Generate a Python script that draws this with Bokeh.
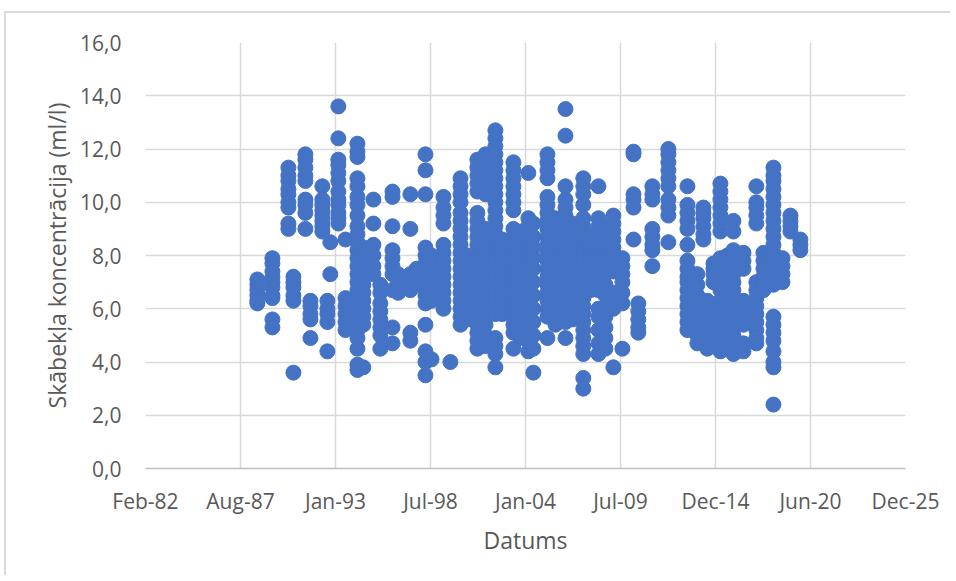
from datetime import datetime
from bokeh.plotting import figure
from bokeh.models import Range1d, FixedTicker, CustomJSTickFormatter, ColumnDataSource
from bokeh.embed import file_html
from bokeh.resources import INLINE

# ---- data: sampling dates and the oxygen values measured on each date ----
sample_dates = [
    "1988-07-31", "1989-06-13", "1990-05-15", "1990-08-29", "1991-05-08", "1991-08-22",
    "1992-04-29", "1992-08-13", "1992-10-14", "1993-04-01", "1993-08-29", "1994-05-08",
    "1994-09-09", "1995-04-09", "1995-09-02", "1996-05-15", "1996-09-12", "1997-05-26",
    "1997-10-01", "1998-04-09", "1998-08-15", "1999-04-23", "1999-09-16", "2000-04-16",
    "2000-09-09", "2001-04-06", "2001-09-24", "2002-04-20", "2002-09-13", "2003-05-05",
    "2003-09-27", "2004-03-14", "2004-06-28", "2005-04-20", "2005-10-05", "2006-05-05",
    "2006-09-27", "2007-05-15", "2007-10-12", "2008-03-29", "2008-08-22", "2009-02-06",
    "2009-08-15", "2010-04-06", "2010-07-16", "2011-05-08", "2012-04-09", "2013-05-15",
    "2013-12-10", "2014-04-16", "2014-07-09", "2014-11-14", "2015-04-09", "2015-09-02",
    "2016-01-08", "2016-08-07", "2017-05-05", "2017-10-01", "2018-04-30", "2018-11-06",
    "2019-04-23", "2019-11-18",
]
sample_values = [
    [7.1, 6.9, 6.7, 6.5, 6.3, 6.2],
    [7.9, 7.7, 7.4, 7.2, 7.0, 6.8, 6.5, 6.4, 5.6, 5.3],
    [11.3, 11.0, 10.8, 10.5, 10.3, 10.0, 9.8, 9.2, 9.0],
    [7.2, 7.0, 6.8, 6.5, 6.3, 3.6],
    [11.8, 11.6, 11.3, 11.0, 10.8, 10.1, 9.9, 9.6, 9.0],
    [6.3, 6.1, 5.8, 5.6, 4.9],
    [10.6, 10.1, 9.9, 9.7, 9.5, 9.3, 9.1, 8.9],
    [6.3, 6.0, 5.8, 5.5, 4.4],
    [8.5, 7.3],
    [13.6, 12.4, 11.6, 11.4, 11.1, 10.8, 10.4, 10.1, 9.9, 9.6, 9.4, 9.2],
    [8.6, 6.4, 6.1, 5.8, 5.5, 5.2],
    [12.2, 11.9, 11.7, 10.9, 10.6, 10.2, 9.9, 9.5, 9.1, 8.8, 8.5, 8.2, 7.9, 7.6, 7.3,
     7.0, 6.7, 6.4, 6.1, 5.8, 5.5, 5.2, 4.9, 4.5, 3.9, 3.7],
    [8.3, 8.0, 7.7, 7.5, 7.2, 6.9, 6.6, 6.3, 6.0, 5.7, 5.4, 3.8],
    [10.1, 9.2, 8.4, 8.0, 7.6, 7.3],
    [6.9, 6.6, 6.2, 5.9, 5.6, 5.3, 5.0, 4.5],
    [10.4, 10.2, 9.1, 8.2, 7.9, 7.6, 7.3, 6.7, 5.3, 4.7],
    [7.3, 7.0, 6.6],
    [10.3, 9.0, 7.3, 7.1, 6.9, 6.7, 5.1, 4.8],
    [7.5, 7.2, 6.9],
    [11.8, 11.2, 10.3, 8.3, 8.0, 7.7, 7.4, 7.1, 6.8, 6.5, 6.2, 5.4, 4.4, 4.0, 3.5],
    [8.0, 7.7, 7.5, 7.2, 6.9, 6.6, 6.3, 4.1],
    [10.2, 9.8, 9.5, 9.2, 8.4, 8.1, 7.8, 7.5, 7.2, 6.9, 6.6, 6.3, 6.0],
    [4.0],
    [10.9, 10.6, 10.3, 10.0, 9.6, 9.3, 9.0, 8.7, 8.4, 8.1, 7.8, 7.5, 7.2, 6.9, 6.6,
     6.3, 6.0, 5.7, 5.4],
    [8.0, 7.6, 7.2, 6.8, 6.4, 6.0, 5.6],
    [11.6, 11.3, 11.0, 10.7, 10.4, 9.6, 9.3, 9.0, 8.7, 8.4, 8.1, 7.8, 7.5, 7.2, 6.9,
     6.6, 6.3, 6.0, 5.7, 5.4, 5.1, 4.8, 4.5],
    [11.8, 11.5, 11.2, 10.9, 10.6, 10.3, 9.0, 8.7, 8.4, 8.1, 7.8, 7.5, 7.2, 6.9, 6.6,
     6.3, 6.0, 5.7, 5.4, 5.0, 4.6],
    [12.7, 12.4, 12.1, 11.8, 11.5, 11.2, 10.9, 10.6, 10.3, 10.0, 9.7, 9.4, 9.1, 8.8,
     8.5, 8.2, 7.9, 7.6, 7.3, 7.0, 6.7, 6.4, 6.1, 5.8, 4.9, 4.6, 4.3, 3.8],
    [8.6, 8.2, 7.8, 7.4, 7.0, 6.6, 6.2, 5.8],
    [11.5, 11.2, 10.9, 10.6, 10.3, 10.0, 9.7, 9.0, 8.7, 8.4, 8.1, 7.8, 7.5, 7.2, 6.9,
     6.6, 6.3, 6.0, 5.7, 5.4, 5.1, 4.5],
    [8.9, 8.5, 8.1, 7.7, 7.3, 6.9, 6.5, 6.1, 5.7, 5.3, 4.9],
    [11.1, 9.4, 9.1, 8.8, 8.5, 8.2, 7.9, 7.6, 7.3, 7.0, 6.7, 6.4, 6.1, 5.8, 5.5, 5.2,
     4.8, 4.4],
    [9.2, 8.7, 8.3, 7.9, 7.5, 7.0, 6.5, 6.0, 5.5, 5.0, 4.5, 3.6],
    [11.8, 11.5, 11.2, 10.9, 10.2, 9.9, 9.6, 9.3, 9.0, 8.7, 8.4, 8.1, 7.8, 7.5, 7.2,
     6.9, 6.6, 6.3, 6.0, 5.7, 4.9],
    [9.4, 9.0, 8.6, 8.2, 7.8, 7.4, 7.0, 6.6, 6.2, 5.8, 5.4],
    [13.5, 12.5, 10.6, 10.1, 9.8, 9.5, 9.2, 8.9, 8.6, 8.3, 8.0, 7.7, 7.4, 7.1, 6.8,
     6.5, 6.2, 5.9, 5.5, 4.9],
    [9.2, 8.8, 8.4, 8.0, 7.6, 7.2, 6.8, 6.4, 6.0, 5.6],
    [10.9, 10.6, 10.3, 9.9, 9.4, 9.1, 8.8, 8.5, 8.2, 7.9, 7.6, 7.3, 7.0, 6.7, 6.4,
     6.1, 5.8, 5.5, 5.2, 4.9, 4.6, 4.3, 3.4, 3.0],
    [8.7, 8.3, 7.9, 7.5, 7.1, 6.7],
    [10.6, 9.4, 9.1, 8.8, 8.5, 8.2, 7.9, 7.6, 7.3, 7.0, 6.7, 6.0, 5.7, 5.2, 4.7, 4.3],
    [9.1, 8.8, 8.5, 8.2, 7.9, 7.6, 7.3, 6.9, 6.5, 6.1, 5.7, 5.3, 4.9, 4.5],
    [9.5, 9.2, 8.9, 8.6, 8.3, 8.0, 7.7, 7.4, 6.6, 6.3, 6.0, 3.8],
    [7.9, 7.6, 7.3, 7.0, 6.6, 6.2, 4.5],
    [11.9, 11.8, 10.3, 10.1, 9.8, 8.6],
    [6.2, 5.9, 5.6, 5.3, 5.1],
    [10.6, 10.3, 10.1, 9.0, 8.7, 8.4, 8.2, 7.6],
    [12.0, 11.8, 11.5, 11.2, 10.9, 10.6, 10.1, 9.8, 9.5, 8.5],
    [10.6, 9.9, 9.6, 9.3, 9.0, 8.4, 7.8, 7.5, 7.2, 7.0, 6.7, 6.4, 6.1, 5.8, 5.5, 5.2],
    [7.3, 6.9, 6.5, 6.1, 5.7, 5.3, 5.0, 4.7],
    [9.8, 9.6, 9.4, 9.1, 8.8, 8.6],
    [6.3, 6.0, 5.7, 5.4, 5.1, 4.8, 4.5],
    [7.7, 7.5, 7.3, 7.0],
    [10.7, 10.4, 10.1, 9.8, 9.5, 9.2, 8.9, 7.9, 7.5, 7.1, 6.7, 6.3, 5.9, 5.5, 5.1,
     4.8, 4.4],
    [8.0, 7.7, 7.4, 7.1, 6.8, 6.5, 6.2, 5.8, 5.5],
    [9.3, 8.9, 8.2, 7.9, 7.6, 7.3, 7.0, 6.7, 6.2, 5.9, 5.6, 5.3, 5.0, 4.6, 4.3],
    [8.1, 7.8, 7.5, 6.3, 6.0, 5.7, 5.4, 4.7, 4.4],
    [10.6, 10.0, 9.8, 9.5, 9.2, 7.0, 6.7, 6.4, 6.1, 5.8, 5.5, 5.2, 4.9, 4.7],
    [8.1, 7.8, 7.5, 7.2, 6.9, 6.7],
    [11.3, 11.0, 10.8, 10.5, 10.2, 9.9, 9.6, 9.3, 9.0, 8.7, 8.4, 8.1, 7.8, 7.5, 7.2,
     6.9, 5.7, 5.4, 5.1, 4.8, 4.4, 4.0, 3.8, 2.4],
    [7.9, 7.6, 7.3, 7.0],
    [9.5, 9.3, 9.1, 8.9],
    [8.6, 8.4, 8.2],
]

x_tick_dates = ["1982-02-18", "1987-08-11", "1993-01-31", "1998-07-24", "2004-01-14",
                "2009-07-06", "2014-12-27", "2020-06-18", "2025-12-09"]
x_tick_labels = ["Feb-82", "Aug-87", "Jan-93", "Jul-98", "Jan-04",
                 "Jul-09", "Dec-14", "Jun-20", "Dec-25"]
y_ticks = [0, 2, 4, 6, 8, 10, 12, 14, 16]

# ---- build table ----
xs, ys = [], []
for d, vals in zip(sample_dates, sample_values):
    for v in vals:
        xs.append(datetime.strptime(d, "%Y-%m-%d"))
        ys.append(v)
src = ColumnDataSource(dict(x=xs, y=ys))

def to_ms(s):
    return (datetime.strptime(s, "%Y-%m-%d") - datetime(1970, 1, 1)).total_seconds() * 1000.0

tick_ms = [to_ms(s) for s in x_tick_dates]

FONT = "Open Sans"
TXT = "#595959"
GRID = "#D9D9D9"

W, H = 950, 575
p = figure(width=W, height=H, x_axis_type="datetime",
           output_backend="svg", toolbar_location=None,
           x_range=Range1d(tick_ms[0], tick_ms[-1]),
           y_range=Range1d(0, 16),
           min_border_left=145, min_border_right=45,
           min_border_top=42, min_border_bottom=107)
p.outline_line_color = None
p.background_fill_color = "white"
p.border_fill_alpha = 0.0

p.scatter("x", "y", source=src, size=15, marker="circle",
          fill_color="#4472C4", line_color="#4472C4")

# x axis
xt = FixedTicker(ticks=tick_ms)
p.xaxis.ticker = xt
p.xgrid.ticker = xt
p.xaxis.major_label_overrides = {t: lab for t, lab in zip(tick_ms, x_tick_labels)}
p.xaxis.axis_label = "Datums"
p.xaxis.axis_line_color = "#BFBFBF"
p.xaxis.axis_line_width = 1.5
p.xaxis.major_tick_line_color = None
p.xaxis.minor_tick_line_color = None
p.xaxis.major_tick_out = 0
p.xaxis.major_label_standoff = 18
p.xaxis.axis_label_standoff = 6

# y axis
yt = FixedTicker(ticks=y_ticks)
p.yaxis.ticker = yt
p.ygrid.ticker = yt
p.yaxis.formatter = CustomJSTickFormatter(code="return tick.toFixed(1).replace('.', ',');")
p.yaxis.axis_label = "Skābekļa koncentrācija (ml/l)"
p.yaxis.axis_line_color = None
p.yaxis.major_tick_line_color = None
p.yaxis.minor_tick_line_color = None
p.yaxis.major_tick_out = 0
p.yaxis.major_label_standoff = 24
p.yaxis.axis_label_standoff = 4

for ax in (p.xaxis, p.yaxis):
    ax.major_label_text_font = FONT
    ax.major_label_text_font_size = "21px"
    ax.major_label_text_color = TXT
    ax.axis_label_text_font = FONT
    ax.axis_label_text_font_size = "23px"
    ax.axis_label_text_font_style = "normal"
    ax.axis_label_text_color = TXT

for g in (p.xgrid, p.ygrid):
    g.grid_line_color = GRID
    g.grid_line_width = 1.5

# light grey chart-area border (top and left only): two inset shadows on the
# figure's host element, the white one masking all but a 2px grey band
p.styles = {"background-color": "white",
            "box-shadow": "inset 4px 11px 0 0 #FFFFFF, inset 6px 13px 0 0 #D9D9D9"}

open("out.html", "w").write(file_html(p, INLINE))
